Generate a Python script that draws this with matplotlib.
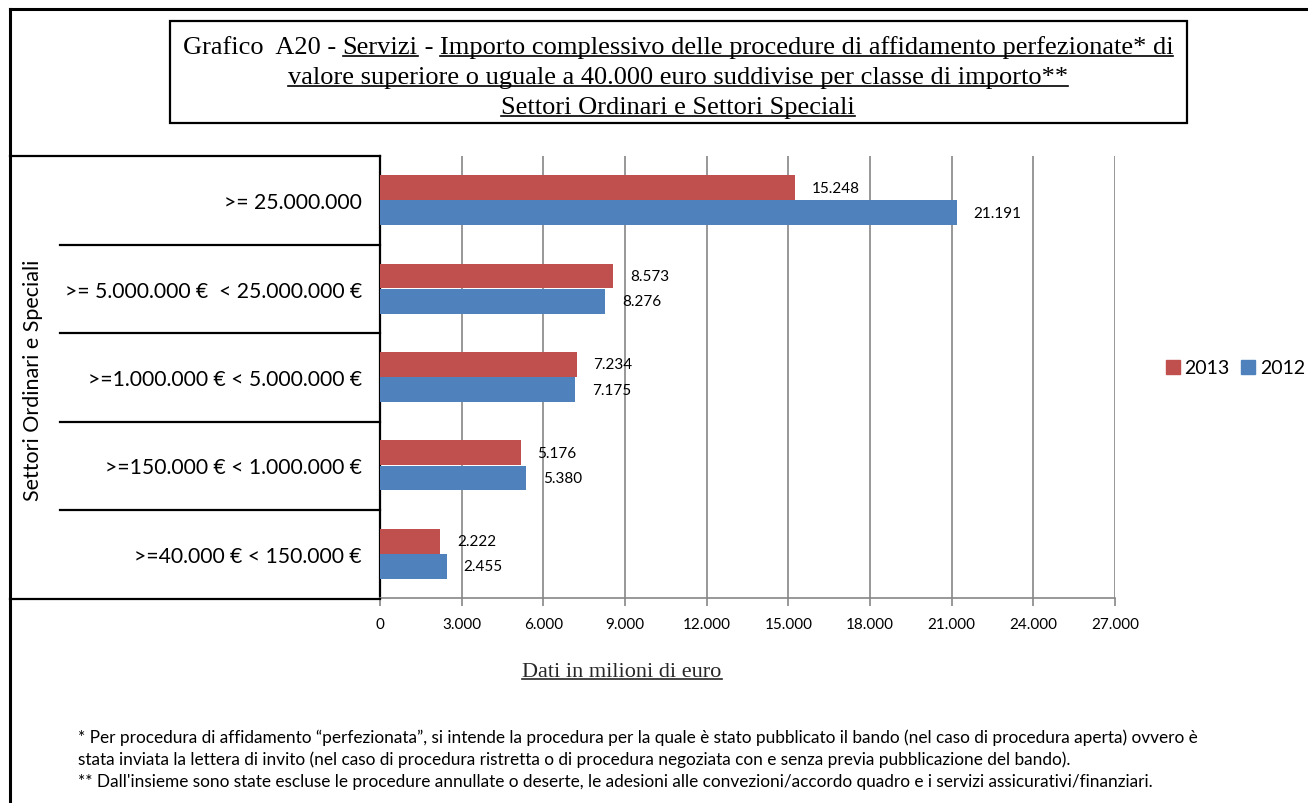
import numpy as np
import matplotlib
matplotlib.use('Agg')
import matplotlib.pyplot as plt
from matplotlib.lines import Line2D
from matplotlib.patches import Rectangle, Patch

# Data (milioni di euro)
categories = [">= 25.000.000",
              ">= 5.000.000 €  < 25.000.000 €",
              ">=1.000.000 € < 5.000.000 €",
              ">=150.000 € < 1.000.000 €",
              ">=40.000 € < 150.000 €"]
val_2013 = [15248, 8573, 7234, 5176, 2222]
val_2012 = [21191, 8276, 7175, 5380, 2455]
x_ticks = [0, 3000, 6000, 9000, 12000, 15000, 18000, 21000, 24000, 27000]

RED = '#C0504D'
BLUE = '#4F81BD'
W, H = 1308, 804
SANS = ['Lato', 'DejaVu Sans']
SERIF = ['Liberation Serif', 'DejaVu Serif']


def px(x, y):
    # pixel coords (top-left origin) -> figure fraction
    return x / W, 1 - y / H


fig = plt.figure(figsize=(W / 100, H / 100), dpi=100)
ax = fig.add_axes([380 / W, 1 - 599 / H, 735 / W, 442 / H])

y = np.arange(len(categories))
h = 0.28
ax.barh(y - 0.142, val_2013, height=h, color=RED, label='2013', zorder=3)
ax.barh(y + 0.142, val_2012, height=h, color=BLUE, label='2012', zorder=3)

for yi, v in zip(y, val_2013):
    ax.annotate(f"{v:,}".replace(',', '.'), (v, yi - 0.142), xytext=(12, 0),
                textcoords='offset points', va='center', ha='left',
                fontsize=11, family=SANS)
for yi, v in zip(y, val_2012):
    ax.annotate(f"{v:,}".replace(',', '.'), (v, yi + 0.142), xytext=(12, 0),
                textcoords='offset points', va='center', ha='left',
                fontsize=11, family=SANS)

ax.set_xlim(0, 27000)
ax.set_ylim(len(categories) - 0.5, -0.5)
ax.set_xticks(x_ticks)
ax.set_xticklabels([f"{t:,}".replace(',', '.') for t in x_ticks], family=SANS, fontsize=11)
ax.set_yticks(y)
ax.set_yticklabels(categories, family=SANS, fontsize=15.2)
ax.tick_params(axis='y', length=0, pad=13)
ax.tick_params(axis='x', length=6, color='#868686', width=1.2, pad=8)
ax.grid(axis='x', color='#868686', linewidth=1.2, zorder=0)
for s in ['top', 'right']:
    ax.spines[s].set_visible(False)
ax.spines['left'].set_color('black')
ax.spines['left'].set_linewidth(1.6)
ax.spines['bottom'].set_color('#868686')
ax.spines['bottom'].set_linewidth(1.2)


def fline(x0, y0, x1, y1, lw=1.6, color='black'):
    a = px(x0, y0)
    b = px(x1, y1)
    fig.add_artist(Line2D([a[0], b[0]], [a[1], b[1]], transform=fig.transFigure,
                          color=color, linewidth=lw))


# outer frame (top and left)
fline(10, 10, W, 10, lw=2.2)
fline(10, 10, 10, H, lw=2.2)

# category table lines
fline(10, 157, 380, 157)
fline(10, 600, 380, 600)
for yy in [246, 334, 423, 511]:
    fline(60, yy, 380, yy)

# y label
fig.text(*px(33, 380), "Settori Ordinari e Speciali", rotation=90,
         ha='center', va='center', fontsize=15.5, family=SANS)

# legend
handles = [Patch(color=RED, label='2013'), Patch(color=BLUE, label='2012')]
fig.legend(handles=handles, loc='center left', bbox_to_anchor=px(1166, 369),
           ncol=2, frameon=False, prop={'family': SANS, 'size': 14},
           handlelength=0.7, handleheight=0.7, handletextpad=0.25,
           columnspacing=0.6, borderaxespad=0, borderpad=0)

# title box
x0, y0 = px(170, 124)
x1, y1 = px(1187, 22)
fig.add_artist(Rectangle((x0, y0), x1 - x0, y1 - y0, transform=fig.transFigure,
                         fill=False, edgecolor='black', linewidth=1.6))

renderer = fig.canvas.get_renderer()


def draw_parts(parts, cx, base_y, size, family, color='black'):
    # centred line of text pieces, some of them underlined
    texts = []
    for s, u in parts:
        t = fig.text(0, 0, s, fontsize=size, family=family, va='baseline',
                     ha='left', color=color)
        texts.append((t, u))
    widths = [t.get_window_extent(renderer).width for t, u in texts]
    x = cx - sum(widths) / 2
    for (t, u), w in zip(texts, widths):
        t.set_position(px(x, base_y))
        if u:
            fline(x, base_y + 3, x + w, base_y + 3, lw=1.2, color=color)
        x += w


TS = 19
draw_parts([("Grafico  A20 - ", False), ("Servizi", True), (" - ", False),
            ("Importo complessivo delle procedure di affidamento perfezionate* di", True)],
           678, 54, TS, SERIF)
draw_parts([("valore superiore o uguale a 40.000 euro suddivise per classe di importo**", True)],
           678, 84, TS, SERIF)
draw_parts([("Settori Ordinari e Settori Speciali", True)], 678, 114, TS, SERIF)

# x label
draw_parts([("Dati in milioni di euro", True)], 622, 677, 16, SERIF, color='#262626')

# footnotes
notes = [
    "* Per procedura di affidamento \u201cperfezionata\u201d, si intende la procedura per la quale \u00e8 stato pubblicato il bando (nel caso di procedura aperta) ovvero \u00e8",
    "stata inviata la lettera di invito (nel caso di procedura ristretta o di procedura negoziata con e senza previa pubblicazione del bando).",
    "** Dall'insieme sono state escluse le procedure annullate o deserte, le adesioni alle convezioni/accordo quadro e i servizi assicurativi/finanziari.",
]
for i, n in enumerate(notes):
    fig.text(*px(78, 738 + 22 * i), n, ha='left', va='center', fontsize=12.4, family=SANS)

fig.savefig('out.png', dpi=100)
